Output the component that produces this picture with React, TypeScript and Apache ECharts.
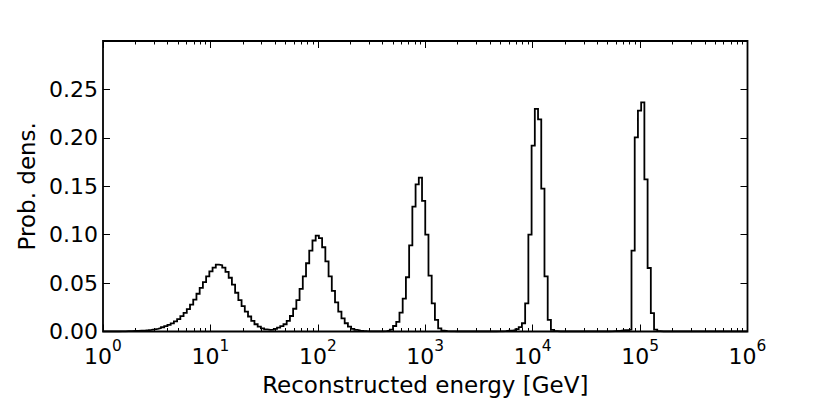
import React, { useEffect, useRef } from "react";
import * as echarts from "echarts";

// Histogram bins: uniform in log10(E / GeV), 200 bins from 10^0 to 10^6
const BIN_LOG_START = 0;
const BIN_LOG_WIDTH = 0.03;

// Probability density per bin
const PROB_DENS = [
  0, 0, 0, 0, 0, 0.0001, 0.0002, 0.0003, 0.0004, 0.0005,
  0.0006, 0.0008, 0.001, 0.0013, 0.0017, 0.0022, 0.0028, 0.0035, 0.0044, 0.0055,
  0.0068, 0.0084, 0.0104, 0.0128, 0.0158, 0.0192, 0.0232, 0.0278, 0.033, 0.039,
  0.045, 0.051, 0.057, 0.062, 0.066, 0.069, 0.0685, 0.066, 0.0615, 0.0555,
  0.0485, 0.04, 0.0325, 0.0262, 0.0205, 0.0155, 0.011, 0.0075, 0.005, 0.0033,
  0.0022, 0.0016, 0.0018, 0.0028, 0.004, 0.0055, 0.0075, 0.011, 0.016, 0.0235,
  0.0325, 0.044, 0.057, 0.0705, 0.0835, 0.094, 0.099, 0.0965, 0.087, 0.0725,
  0.057, 0.042, 0.03, 0.0205, 0.0135, 0.0085, 0.005, 0.0028, 0.0016, 0.0009,
  0.0005, 0.0003, 0.0002, 0.0001, 0.0001, 0.0001, 0.0002, 0.0004, 0.0008, 0.002,
  0.0057, 0.01, 0.0195, 0.034, 0.056, 0.089, 0.129, 0.152, 0.159, 0.135,
  0.1, 0.0576, 0.029, 0.012, 0.0033, 0.001, 0.0004, 0.0002, 0.0001, 0,
  0, 0, 0, 0, 0, 0, 0, 0, 0, 0,
  0, 0, 0.0001, 0.0002, 0.0004, 0.0008, 0.001, 0.0015, 0.0025, 0.0045,
  0.0085, 0.029, 0.1, 0.192, 0.23, 0.219, 0.1475, 0.057, 0.012, 0.0016,
  0.0003, 0, 0, 0, 0, 0, 0, 0, 0, 0,
  0, 0, 0, 0, 0, 0, 0, 0.0002, 0.0004, 0.0005,
  0.001, 0.0015, 0.0015, 0.002, 0.0836, 0.2005, 0.228, 0.2366, 0.157, 0.0656,
  0.019, 0.002, 0.0003, 0, 0, 0, 0, 0, 0, 0,
  0, 0, 0, 0, 0, 0, 0, 0, 0, 0,
  0, 0, 0, 0, 0, 0, 0, 0, 0, 0,
];

// Axis ranges / ticks (x in decades: exponent of 10)
const X_DECADES = [0, 1, 2, 3, 4, 5, 6];
const X_MINOR_MULTIPLIERS = [2, 3, 4, 5, 6, 7, 8, 9];
const Y_MIN = 0;
const Y_MAX = 0.3;
const Y_STEP = 0.05;

const FONT = "DejaVu Sans";

export default function App() {
  const ref = useRef<HTMLDivElement>(null);

  useEffect(() => {
    if (!ref.current) return;
    document.body.style.margin = "0";
    const chart = echarts.init(ref.current, undefined, { renderer: "svg" });

    const n = PROB_DENS.length;
    const edge = (i: number) => BIN_LOG_START + i * BIN_LOG_WIDTH;
    const pts: [number, number][] = [[edge(0), 0]];
    for (let i = 0; i < n; i++) pts.push([edge(i), PROB_DENS[i]]);
    pts.push([edge(n), PROB_DENS[n - 1]]);
    pts.push([edge(n), 0]);

    const xMin = X_DECADES[0];
    const xMax = X_DECADES[X_DECADES.length - 1];
    const minor: number[] = [];
    for (let d = xMin; d < xMax; d++) {
      for (const m of X_MINOR_MULTIPLIERS) minor.push(d + Math.log10(m));
    }

    const tickStyle = { color: "#000", width: 1 };
    const noLine = { show: false, onZero: false };
    const baseX = {
      type: "value" as const,
      min: xMin,
      max: xMax,
      interval: 1,
      splitLine: { show: false },
      axisLine: noLine,
    };
    const majorX = (pos: "top" | "bottom", labels: boolean) => ({
      ...baseX,
      position: pos,
      axisTick: { show: true, inside: true, length: 7, lineStyle: tickStyle },
      axisLabel: labels
        ? {
            show: true,
            margin: 7,
            color: "#000",
            formatter: (v: number) => `{b|10}{s|${Math.round(v)}}`,
            rich: {
              b: { fontFamily: FONT, fontSize: 22, lineHeight: 35, color: "#000" },
              s: {
                fontFamily: FONT,
                fontSize: 15.4,
                lineHeight: 15,
                verticalAlign: "top",
                color: "#000",
              },
            },
          }
        : { show: false },
    });
    const minorX = (pos: "top" | "bottom") => ({
      ...baseX,
      position: pos,
      axisTick: {
        show: true,
        inside: true,
        length: 3.5,
        customValues: minor,
        lineStyle: tickStyle,
      },
      axisLabel: { show: false },
    });

    chart.setOption({
      animation: false,
      backgroundColor: "#fff",
      grid: {
        left: 103,
        right: 82.5,
        top: 41,
        bottom: 83.5,
        show: true,
        outerBoundsMode: "none",
        containLabel: false,
        borderColor: "#000",
        borderWidth: 1.8,
        backgroundColor: "transparent",
      },
      xAxis: [
        {
          ...majorX("bottom", true),
          name: "Reconstructed energy [GeV]",
          nameLocation: "middle",
          nameGap: 42,
          nameTextStyle: { fontFamily: FONT, fontSize: 23, color: "#000" },
        },
        minorX("bottom"),
        majorX("top", false),
        minorX("top"),
      ],
      yAxis: [
        {
          type: "value",
          min: Y_MIN,
          max: Y_MAX,
          interval: Y_STEP,
          position: "left",
          splitLine: { show: false },
          axisLine: noLine,
          axisTick: { show: true, inside: true, length: 7, lineStyle: tickStyle },
          axisLabel: {
            show: true,
            showMaxLabel: false,
            margin: 5,
            padding: [4, 0, 0, 0],
            color: "#000",
            fontFamily: FONT,
            fontSize: 22,
            formatter: (v: number) => v.toFixed(2),
          },
          name: "Prob. dens.",
          nameLocation: "middle",
          nameGap: 59,
          nameTextStyle: { fontFamily: FONT, fontSize: 23, color: "#000" },
        },
        {
          type: "value",
          min: Y_MIN,
          max: Y_MAX,
          interval: Y_STEP,
          position: "right",
          splitLine: { show: false },
          axisLine: noLine,
          axisTick: { show: true, inside: true, length: 7, lineStyle: tickStyle },
          axisLabel: { show: false },
        },
      ],
      series: [
        {
          type: "line",
          step: "end",
          xAxisIndex: 0,
          yAxisIndex: 0,
          data: pts,
          showSymbol: false,
          symbol: "none",
          clip: true,
          lineStyle: { color: "#000", width: 1.8, join: "miter" },
          z: 5,
        },
      ],
    });

    return () => chart.dispose();
  }, []);

  return (
    <div
      ref={ref}
      style={{ position: "absolute", left: 0, top: 0, width: 830, height: 415 }}
    />
  );
}
